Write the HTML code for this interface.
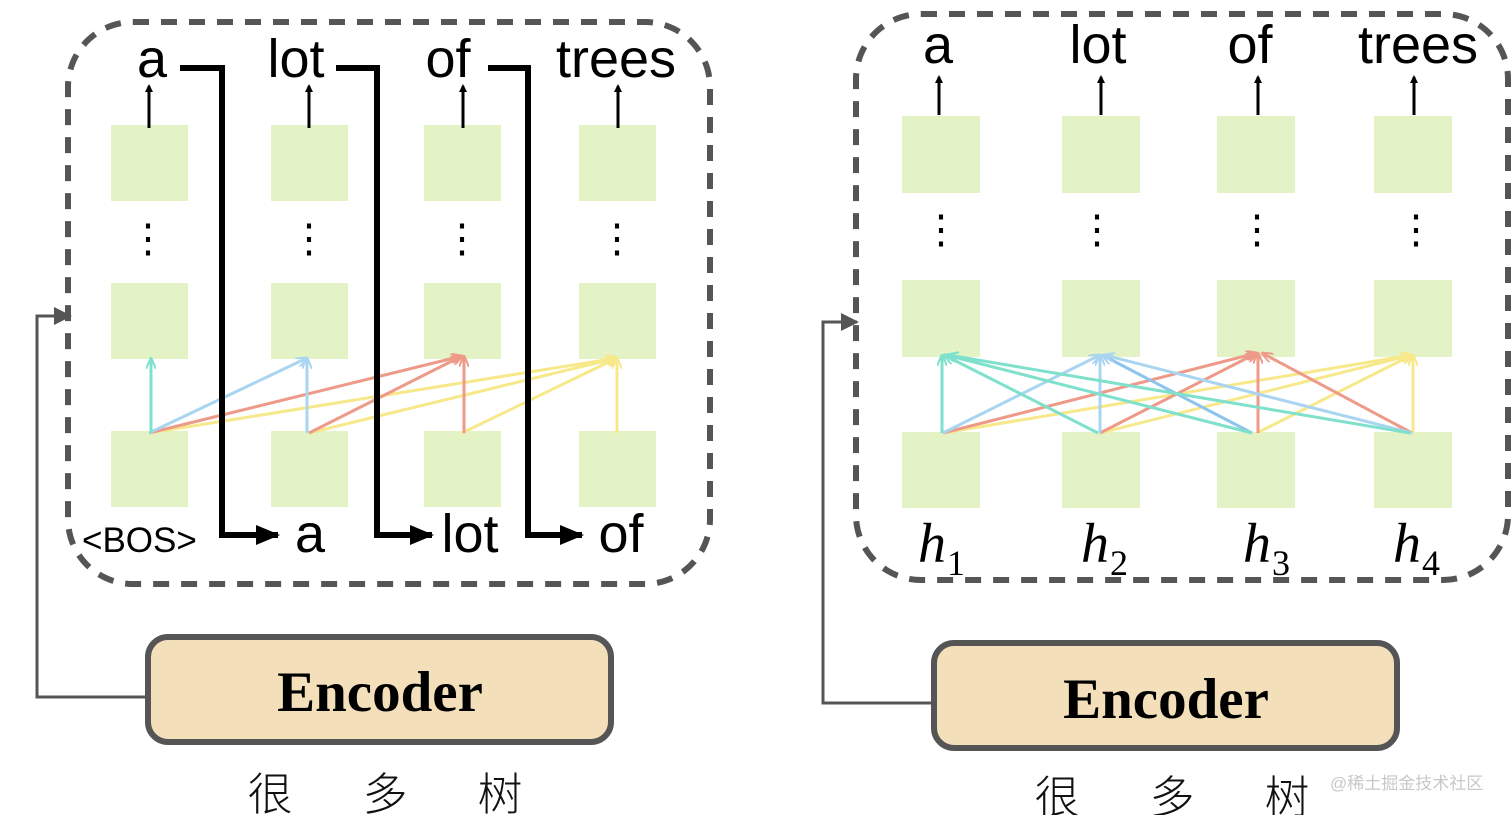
<!DOCTYPE html>
<html><head><meta charset="utf-8"><style>
html,body{margin:0;padding:0;background:#fff;}
svg{display:block}
.lbl{font-family:"Liberation Sans",sans-serif;font-size:54px;fill:#000}
.enc{font-family:"Liberation Serif",serif;font-weight:bold;font-size:57px;fill:#000}
.cn{font-family:"Liberation Sans","Noto Sans CJK SC",sans-serif;font-size:45px;fill:#111;font-weight:300}
.h{font-family:"Liberation Serif","DejaVu Serif",serif;font-style:italic;font-size:56px;fill:#000}
.sub{font-family:"Liberation Serif",serif;font-size:36px;fill:#000}
</style></head><body>
<svg width="1512" height="815" viewBox="0 0 1512 815" xmlns="http://www.w3.org/2000/svg">
<defs>
<marker id="ab" markerWidth="8" markerHeight="8" refX="6" refY="4" orient="auto" markerUnits="userSpaceOnUse"><path d="M0,0 L8,4 L0,8 Z" fill="#000"/></marker>
<marker id="abig" markerWidth="24" markerHeight="20" refX="22" refY="10" orient="auto" markerUnits="userSpaceOnUse"><path d="M0,0 L24,10 L0,20 Z" fill="#000"/></marker>
<marker id="ag" markerWidth="18" markerHeight="18" refX="16" refY="9" orient="auto" markerUnits="userSpaceOnUse"><path d="M0,0 L18,9 L0,18 Z" fill="#555"/></marker>
<marker id="mt" markerWidth="12" markerHeight="10" refX="11" refY="5" orient="auto" markerUnits="userSpaceOnUse"><path d="M0,0 L12,5 L0,10" fill="none" stroke="#7fe0cc" stroke-width="2"/></marker>
<marker id="mb" markerWidth="12" markerHeight="10" refX="11" refY="5" orient="auto" markerUnits="userSpaceOnUse"><path d="M0,0 L12,5 L0,10" fill="none" stroke="#a9d5f0" stroke-width="2"/></marker>
<marker id="mr" markerWidth="12" markerHeight="10" refX="11" refY="5" orient="auto" markerUnits="userSpaceOnUse"><path d="M0,0 L12,5 L0,10" fill="none" stroke="#ee9a88" stroke-width="2"/></marker>
<marker id="my" markerWidth="12" markerHeight="10" refX="11" refY="5" orient="auto" markerUnits="userSpaceOnUse"><path d="M0,0 L12,5 L0,10" fill="none" stroke="#f7e88a" stroke-width="2"/></marker>
</defs>

<!-- LEFT PANEL -->
<rect x="68" y="22" width="642" height="562" rx="65" fill="none" stroke="#555" stroke-width="6" stroke-dasharray="16,12"/>
<g fill="#e3f3c6">
<rect x="111" y="125" width="77" height="76"/><rect x="271" y="125" width="77" height="76"/><rect x="424" y="125" width="77" height="76"/><rect x="579" y="125" width="77" height="76"/>
<rect x="111" y="283" width="77" height="76"/><rect x="271" y="283" width="77" height="76"/><rect x="424" y="283" width="77" height="76"/><rect x="579" y="283" width="77" height="76"/>
<rect x="111" y="431" width="77" height="76"/><rect x="271" y="431" width="77" height="76"/><rect x="424" y="431" width="77" height="76"/><rect x="579" y="431" width="77" height="76"/>
</g>
<g class="lbl" text-anchor="middle"><text x="148" y="252" style="font-size:40px">⋮</text><text x="309" y="252" style="font-size:40px">⋮</text><text x="462" y="252" style="font-size:40px">⋮</text><text x="617" y="252" style="font-size:40px">⋮</text></g>
<g stroke-width="3" fill="none">
<line x1="149" y1="433" x2="617" y2="358" stroke="#f7e88a" marker-end="url(#my)"/>
<line x1="309" y1="433" x2="617" y2="358" stroke="#f7e88a" marker-end="url(#my)"/>
<line x1="462" y1="433" x2="617" y2="358" stroke="#f7e88a" marker-end="url(#my)"/>
<line x1="617" y1="433" x2="617" y2="358" stroke="#f7e88a" marker-end="url(#my)"/>
<line x1="149" y1="433" x2="462" y2="356" stroke="#ee9a88" marker-end="url(#mr)"/>
<line x1="309" y1="433" x2="462" y2="356" stroke="#ee9a88" marker-end="url(#mr)"/>
<line x1="464" y1="433" x2="464" y2="356" stroke="#ee9a88" marker-end="url(#mr)"/>
<line x1="149" y1="433" x2="307" y2="358" stroke="#a9d5f0" marker-end="url(#mb)"/>
<line x1="307" y1="433" x2="307" y2="358" stroke="#a9d5f0" marker-end="url(#mb)"/>
<line x1="151" y1="433" x2="151" y2="358" stroke="#7fe0cc" marker-end="url(#mt)"/>
</g>
<g stroke="#000" stroke-width="3">
<line x1="149" y1="128" x2="149" y2="86" marker-end="url(#ab)"/><line x1="309" y1="128" x2="309" y2="86" marker-end="url(#ab)"/><line x1="463" y1="128" x2="463" y2="86" marker-end="url(#ab)"/><line x1="618" y1="128" x2="618" y2="86" marker-end="url(#ab)"/>
</g>
<g class="lbl" text-anchor="middle"><text x="152" y="77">a</text><text x="296" y="77">lot</text><text x="448" y="77">of</text><text x="616" y="77">trees</text></g>
<g stroke="#000" stroke-width="6" fill="none">
<polyline points="180,68 222,68 222,535 278,535" marker-end="url(#abig)"/>
<polyline points="336,68 377,68 377,535 432,535" marker-end="url(#abig)"/>
<polyline points="488,68 528,68 528,535 582,535" marker-end="url(#abig)"/>
</g>
<text x="82" y="552" style="font-family:'Liberation Sans',sans-serif;font-size:35px">&lt;BOS&gt;</text>
<g class="lbl" text-anchor="middle"><text x="310" y="552">a</text><text x="470" y="552">lot</text><text x="621" y="552">of</text></g>
<rect x="148" y="637" width="463" height="105" rx="20" fill="#f4dfbb" stroke="#555" stroke-width="6"/>
<text class="enc" x="380" y="711" text-anchor="middle">Encoder</text>
<polyline points="148,697 37,697 37,316 70,316" fill="none" stroke="#555" stroke-width="3" marker-end="url(#ag)"/>
<g class="cn" text-anchor="middle"><text x="270" y="810">很</text><text x="385" y="810">多</text><text x="500" y="810">树</text></g>

<!-- RIGHT PANEL -->
<rect x="856" y="14" width="652" height="566" rx="65" fill="none" stroke="#555" stroke-width="6" stroke-dasharray="16,12"/>
<g fill="#e3f3c6">
<rect x="902" y="116" width="78" height="77"/><rect x="1062" y="116" width="78" height="77"/><rect x="1217" y="116" width="78" height="77"/><rect x="1374" y="116" width="78" height="77"/>
<rect x="902" y="280" width="78" height="77"/><rect x="1062" y="280" width="78" height="77"/><rect x="1217" y="280" width="78" height="77"/><rect x="1374" y="280" width="78" height="77"/>
<rect x="902" y="432" width="78" height="76"/><rect x="1062" y="432" width="78" height="76"/><rect x="1217" y="432" width="78" height="76"/><rect x="1374" y="432" width="78" height="76"/>
</g>
<g class="lbl" text-anchor="middle"><text x="941" y="243" style="font-size:40px">⋮</text><text x="1097" y="243" style="font-size:40px">⋮</text><text x="1257" y="243" style="font-size:40px">⋮</text><text x="1416" y="243" style="font-size:40px">⋮</text></g>
<g stroke-width="3" fill="none">
<line x1="943" y1="433" x2="1412" y2="355" stroke="#f7e88a" marker-end="url(#my)"/>
<line x1="1100" y1="433" x2="1412" y2="355" stroke="#f7e88a" marker-end="url(#my)"/>
<line x1="1257" y1="433" x2="1412" y2="355" stroke="#f7e88a" marker-end="url(#my)"/>
<line x1="1413" y1="433" x2="1413" y2="355" stroke="#f7e88a" marker-end="url(#my)"/>
<line x1="943" y1="433" x2="1257" y2="353" stroke="#ee9a88" marker-end="url(#mr)"/>
<line x1="1100" y1="433" x2="1257" y2="353" stroke="#ee9a88" marker-end="url(#mr)"/>
<line x1="1258" y1="433" x2="1258" y2="353" stroke="#ee9a88" marker-end="url(#mr)"/>
<line x1="1412" y1="433" x2="1262" y2="353" stroke="#ee9a88" marker-end="url(#mr)"/>
<line x1="943" y1="433" x2="1100" y2="355" stroke="#a9d5f0" marker-end="url(#mb)"/>
<line x1="1100" y1="433" x2="1100" y2="355" stroke="#a9d5f0" marker-end="url(#mb)"/>
<line x1="1252" y1="433" x2="1102" y2="355" stroke="#8cc4ee" marker-end="url(#mb)"/>
<line x1="1412" y1="433" x2="1104" y2="355" stroke="#a9d5f0" marker-end="url(#mb)"/>
<line x1="942" y1="433" x2="942" y2="355" stroke="#7fe0cc" marker-end="url(#mt)"/>
<line x1="1098" y1="433" x2="944" y2="355" stroke="#7fe0cc" marker-end="url(#mt)"/>
<line x1="1252" y1="433" x2="946" y2="355" stroke="#7fe0cc" marker-end="url(#mt)"/>
<line x1="1410" y1="433" x2="948" y2="355" stroke="#7fe0cc" marker-end="url(#mt)"/>
</g>
<g stroke="#000" stroke-width="3">
<line x1="939" y1="115" x2="939" y2="77" marker-end="url(#ab)"/><line x1="1101" y1="115" x2="1101" y2="77" marker-end="url(#ab)"/><line x1="1258" y1="115" x2="1258" y2="77" marker-end="url(#ab)"/><line x1="1414" y1="115" x2="1414" y2="77" marker-end="url(#ab)"/>
</g>
<g class="lbl" text-anchor="middle"><text x="938" y="63">a</text><text x="1098" y="63">lot</text><text x="1250" y="63">of</text><text x="1418" y="63">trees</text></g>
<g><text class="h" x="918" y="562">h</text><text class="sub" x="947" y="575">1</text>
<text class="h" x="1081" y="562">h</text><text class="sub" x="1110" y="575">2</text>
<text class="h" x="1243" y="562">h</text><text class="sub" x="1272" y="575">3</text>
<text class="h" x="1393" y="562">h</text><text class="sub" x="1422" y="575">4</text></g>
<rect x="934" y="643" width="463" height="105" rx="20" fill="#f4dfbb" stroke="#555" stroke-width="6"/>
<text class="enc" x="1166" y="718" text-anchor="middle">Encoder</text>
<polyline points="934,703 823,703 823,322 857,322" fill="none" stroke="#555" stroke-width="3" marker-end="url(#ag)"/>
<g class="cn" text-anchor="middle"><text x="1057" y="813">很</text><text x="1172" y="813">多</text><text x="1287" y="813">树</text></g>
<text x="1330" y="789" style="font-family:'Liberation Sans','Noto Sans CJK SC',sans-serif;font-size:17px;fill:#c8c8c8">@稀土掘金技术社区</text>
</svg>
</body></html>
